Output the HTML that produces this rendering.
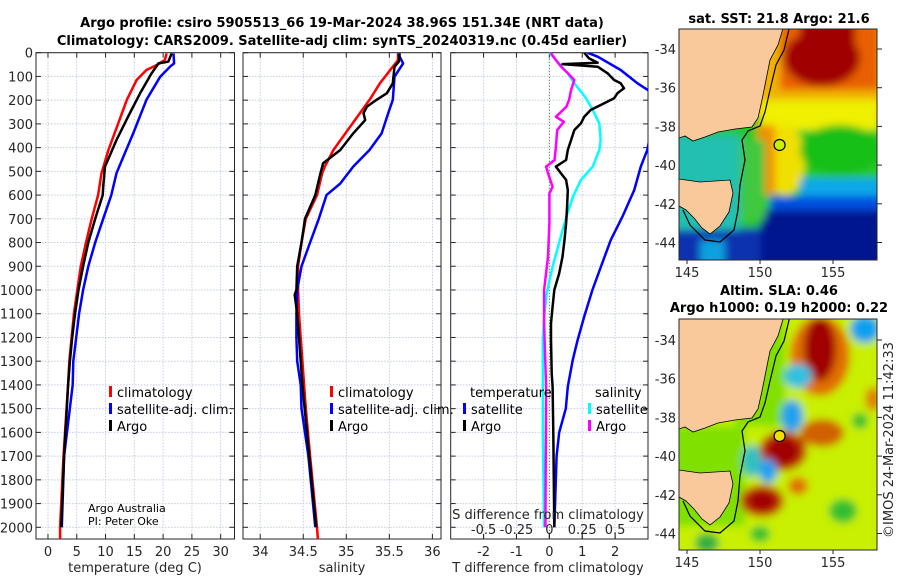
<!DOCTYPE html>
<html><head><meta charset="utf-8">
<style>
body{margin:0;background:#fff;}
svg{display:block;font-family:"DejaVu Sans","Liberation Sans",sans-serif;}
.tk{font-size:13px;fill:#262626;}
.ttl{font-size:13px;font-weight:bold;fill:#000;}
.lg{font-size:13px;fill:#000;}
</style></head>
<body>
<svg id="fig" width="900" height="580" viewBox="0 0 900 580">
<text class="ttl" x="342" y="27" text-anchor="middle">Argo profile: csiro 5905513_66 19-Mar-2024 38.96S 151.34E (NRT data)</text>
<text class="ttl" x="342" y="45" text-anchor="middle">Climatology: CARS2009. Satellite-adj clim: synTS_20240319.nc (0.45d earlier)</text>
<g id="panels"></g>
<g id="maps"></g>
</svg>
<script>
// ---------- data ----------
const depthTicks=[0,100,200,300,400,500,600,700,800,900,1000,1100,1200,1300,1400,1500,1600,1700,1800,1900,2000];
const tTicks=[0,5,10,15,20,25,30];
const sTicks=[34,34.5,35,35.5,36];
const dtTicks=[-2,-1,0,1,2];
const dsTicks=[-0.5,-0.25,0,0.25,0.5];
const dsTickLabels=["-0.5","-0.25","0","0.25","0.5"];

const tClimD=[3,31,52,73,115,199,298,410,508,600,700,800,900,1000,1100,1200,1300,1400,1700,2000,2050];
const tClimV=[20.6,20.3,18.9,17.1,15.4,13.7,12.2,10.5,9.3,8.7,7.6,6.6,5.7,5.1,4.5,4.1,3.7,3.5,2.7,2.1,2.1];
const tArgoD=[3,38,45,87,171,270,368,480,565,600,700,800,900,1000,1100,1200,1300,1400,1700,2000];
const tArgoV=[21.5,20.9,19.2,18.0,16.0,13.9,11.9,9.9,9.6,9.5,8.2,7.0,6.1,5.3,4.7,4.2,3.8,3.5,2.8,2.3];
const tSatD=[3,45,59,101,199,340,438,508,600,700,800,900,1000,1100,1200,1300,1400,1700,2000];
const tSatV=[21.8,21.9,21.2,19.5,17.1,14.8,13.1,11.9,11.0,9.6,8.2,7.0,6.1,5.4,4.9,4.4,4.3,2.8,2.4];

const sClimD=[3,31,59,129,199,284,410,480,508,600,700,800,900,1000,1100,1200,1300,1400,1500,1700,2000,2050];
const sClimV=[35.60,35.60,35.54,35.39,35.27,35.10,34.85,34.75,34.72,34.66,34.53,34.48,34.44,34.44,34.45,34.47,34.49,34.51,34.53,34.58,34.66,34.67];
const sArgoD=[3,38,59,129,171,199,227,255,284,340,410,466,508,600,700,800,900,1000,1020,1100,1200,1300,1400,1700,2000];
const sArgoV=[35.62,35.61,35.56,35.54,35.47,35.35,35.24,35.20,35.22,35.08,34.93,34.73,34.70,34.64,34.52,34.48,34.43,34.42,34.40,34.43,34.45,34.47,34.49,34.57,34.65];
const sSatD=[3,45,101,199,241,340,410,480,551,600,700,800,900,1000,1100,1200,1300,1400,1500,1700,2000];
const sSatV=[35.60,35.66,35.56,35.54,35.50,35.41,35.27,35.08,34.93,34.77,34.68,34.58,34.48,34.43,34.42,34.42,34.43,34.47,34.48,34.56,34.64];

const dtSatD=[0,17,73,129,185,410,480,579,691,789,901,1000,1112,1211,1296,1407,1500,1600,1700,2000];
const dtSatV=[1.16,1.47,2.17,2.68,3.3,2.98,2.78,2.58,2.22,1.87,1.57,1.31,1.06,0.86,0.71,0.56,0.5,0.3,0.22,0.15];
const dtArgoD=[0,24,42,48,52,59,87,115,129,150,171,192,220,241,270,298,326,368,410,452,480,508,536,579,649,719,789,860,930,1000,1070,1140,1211,1351,1407,1600,2000];
const dtArgoV=[1.06,1.21,1.47,0.40,0.76,1.47,1.77,1.97,2.17,2.27,2.07,1.97,1.57,1.26,1.06,0.96,0.76,0.66,0.56,0.51,0.20,0.35,0.51,0.56,0.54,0.51,0.46,0.40,0.30,0.15,0.10,0.05,0.05,0.07,0.10,0.12,0.15];
const dsSatD=[0,31,87,129,185,241,298,368,410,480,536,607,691,789,902,1014,1112,1211,1407,1600,2000];
const dsSatV=[0,0.05,0.14,0.19,0.27,0.33,0.38,0.39,0.38,0.33,0.24,0.18,0.13,0.08,0.025,-0.02,-0.04,-0.05,-0.05,-0.05,-0.04];
const dsArgoD=[0,31,59,87,115,157,199,227,270,291,326,396,452,480,508,565,593,719,860,1000,1140,1407,2000];
const dsArgoV=[0.01,0.05,0.09,0.14,0.19,0.165,0.15,0.13,0.05,0.11,0.06,0.05,0.04,-0.025,-0.01,0.025,0,0,-0.01,-0.04,-0.04,-0.025,-0.03];

// ---------- helpers ----------
const NS="http://www.w3.org/2000/svg";
function mk(tag,attrs,parent){const e=document.createElementNS(NS,tag);for(const k in attrs)e.setAttribute(k,attrs[k]);parent.appendChild(e);return e;}
const Y0=52.7,YS=0.2373,YB=539;
function yD(d){return Y0+d*YS;}
const panelsG=document.getElementById('panels');
function lin(a0,a1,p0,p1){return v=>p0+(v-a0)/(a1-a0)*(p1-p0);}

function drawPanel(name,x0,x1,xs,ticks,labels,showY){
  const g=mk('g',{},panelsG);
  
  
  depthTicks.forEach(d=>{
    const l=mk('line',{x1:x0,x2:x1,y1:yD(d),y2:yD(d),stroke:'#c4cbe8','stroke-dasharray':'1.5,1.5','stroke-width':1},g);
    
    
    mk('line',{x1:x0,x2:x0+5,y1:yD(d),y2:yD(d),stroke:'#262626'},g);
    mk('line',{x1:x1-5,x2:x1,y1:yD(d),y2:yD(d),stroke:'#262626'},g);
    if(showY){const t=mk('text',{x:x0-3,y:yD(d)+5,'text-anchor':'end',class:'tk'},g);t.textContent=d;
      
      }
  });
  ticks.forEach((v,i)=>{
    const l=mk('line',{x1:xs(v),x2:xs(v),y1:Y0,y2:YB,stroke:'#c4cbe8','stroke-dasharray':'1.5,1.5'},g);
    
    
    mk('line',{x1:xs(v),x2:xs(v),y1:YB-5,y2:YB,stroke:'#262626'},g);
    mk('line',{x1:xs(v),x2:xs(v),y1:Y0,y2:Y0+5,stroke:'#262626'},g);
    if(labels){const t=mk('text',{x:xs(v),y:556,'text-anchor':'middle',class:'tk'},g);t.textContent=labels[i];
      
      }
  });
  const b=mk('rect',{x:x0,y:Y0,width:x1-x0,height:YB-Y0,fill:'none',stroke:'#262626','stroke-width':1},g);
  
  
  return g;
}
let clipN=0;
function series(g,name,D,V,xs,color,x0,x1,w){
  const id='pc'+(clipN++);
  const cp=mk('clipPath',{id:id},g);mk('rect',{x:x0,y:Y0,width:x1-x0,height:YB-Y0},cp);
  const p=mk('polyline',{points:D.map((d,i)=>xs(V[i]).toFixed(1)+','+yD(d).toFixed(1)).join(' '),fill:'none',stroke:color,'stroke-width':w||2.5,'stroke-linejoin':'round','clip-path':'url(#'+id+')'},g);
  
  
}
function txt(g,name,x,y,s,cls,anchor,extra){
  const t=mk('text',Object.assign({x:x,y:y,class:cls||'lg','text-anchor':anchor||'start'},extra||{}),g);t.textContent=s;
  
  
  return t;}
function legend(g,name,x,y,color,label){
  const r=mk('rect',{x:x,y:y-11,width:3,height:11,fill:color},g);
  
  
  txt(g,name+'-label',x+8,y,label);
}

// panel 1
const xT=lin(-2.08,32.4,36,234.5);
const g1=drawPanel('temperature-panel',36,234.5,xT,tTicks,tTicks.map(String),true);
series(g1,'temp-climatology-line',tClimD,tClimV,xT,'#ff0000',36,234.5);
series(g1,'temp-satellite-line',tSatD,tSatV,xT,'#0000ff',36,234.5);
series(g1,'temp-argo-line',tArgoD,tArgoV,xT,'#000000',36,234.5);
txt(g1,'x-axis-title-temperature',135,572,'temperature (deg C)','tk','middle');
legend(g1,'legend-climatology',109,397,'#ff0000','climatology');
legend(g1,'legend-satellite',109,414,'#0000ff','satellite-adj. clim.');
legend(g1,'legend-argo',109,431,'#000000','Argo');
txt(g1,'credit-argo-australia',88,512,'Argo Australia','lg','start',{style:'font-size:11px'});
txt(g1,'credit-pi',88,525,'PI: Peter Oke','lg','start',{style:'font-size:11px'});

// panel 2
const xS=lin(33.8,36.1,243,441);
const g2=drawPanel('salinity-panel',243,441,xS,sTicks,sTicks.map(String),false);
series(g2,'sal-climatology-line',sClimD,sClimV,xS,'#ff0000',243,441);
series(g2,'sal-satellite-line',sSatD,sSatV,xS,'#0000ff',243,441);
series(g2,'sal-argo-line',sArgoD,sArgoV,xS,'#000000',243,441);
txt(g2,'x-axis-title-salinity',342,572,'salinity','tk','middle');
legend(g2,'legend-s-climatology',330,397,'#ff0000','climatology');
legend(g2,'legend-s-satellite',330,414,'#0000ff','satellite-adj. clim.');
legend(g2,'legend-s-argo',330,431,'#000000','Argo');

// panel 3
const xDT=lin(-3,3,450.7,648), xDS=lin(-0.75,0.75,450.7,648);
const g3=drawPanel('difference-panel',450.7,648,xDT,dtTicks,dtTicks.map(String),false);
const zl=mk('line',{x1:xDT(0),x2:xDT(0),y1:Y0,y2:YB,stroke:'#4a6a20','stroke-dasharray':'1,2'},g3);


series(g3,'dt-satellite-line',dtSatD,dtSatV,xDT,'#0000ff',450.7,648);
series(g3,'ds-satellite-line',dsSatD,dsSatV,xDS,'#00ffff',450.7,648);
series(g3,'ds-argo-line',dsArgoD,dsArgoV,xDS,'#ff00ff',450.7,648);
series(g3,'dt-argo-line',dtArgoD,dtArgoV,xDT,'#000000',450.7,648);
dsTicks.forEach((v,i)=>{mk('line',{x1:xDS(v),x2:xDS(v),y1:YB-5,y2:YB,stroke:'#262626'},g3);
  txt(g3,'s-tick-label',xDS(v),534,dsTickLabels[i],'tk','middle');});
txt(g3,'s-axis-title',548,519,'S difference from climatology','tk','middle');
txt(g3,'x-axis-title-tdiff',548,572,'T difference from climatology','tk','middle');
txt(g3,'legend-temperature-header',470,397,'temperature');
legend(g3,'legend-dt-satellite',463,414,'#0000ff','satellite');
legend(g3,'legend-dt-argo',463,431,'#000000','Argo');
txt(g3,'legend-salinity-header',595,397,'salinity');
legend(g3,'legend-ds-satellite',588,414,'#00ffff','satellite');
legend(g3,'legend-ds-argo',588,431,'#ff00ff','Argo');

// ---------- maps ----------
const mapsG=document.getElementById('maps');
const lonTicks=[145,150,155], latTicks=[-34,-36,-38,-40,-42,-44];
function lonX(l){return 679+(l-144.45)*14.6;}
function drawMap(name,top,bot,y34,layers,markerFill){
  const g=mk('g',{},mapsG);
  
  
  const latY=l=>y34+(-34-l)*19.35;
  const off=y34-49;
  const id='mc'+name;
  const cp=mk('clipPath',{id:id},g);mk('rect',{x:679,y:top,width:198,height:bot-top},cp);
  const inner=mk('g',{'clip-path':'url(#'+id+')'},g);
  const fid='bl'+name;
  const f=mk('filter',{id:fid,x:'-50%',y:'-50%',width:'200%',height:'200%'},g);mk('feGaussianBlur',{stdDeviation:4},f);
  const bg=mk('g',{filter:'url(#'+fid+')'},inner);
  layers.forEach(L=>{
    if(L[0]==='r')mk('rect',{x:L[1],y:L[2]+off,width:L[3],height:L[4],fill:L[5]},bg);
    else mk('ellipse',{cx:L[1],cy:L[2]+off,rx:L[3],ry:L[4],fill:L[5]},bg);
  });
  const land=mk('path',{d:`M679,${25+off} L784,${25+off} L778,${45+off} L770,${60+off} L766,${80+off} L762,${100+off} L758,${118+off} L752,${127+off} L735,${129+off} L718,${132+off} L705,${137+off} L693,${141+off} L685,${136+off} L679,${138+off} Z
  M679,${179+off} L700,${182+off} L730,${180+off} L733,${193+off} L729,${212+off} L720,${226+off} L710,${234+off} L702,${228+off} L694,${218+off} L686,${210+off} L679,${206+off} Z`,fill:'#f9c89b',stroke:'#000','stroke-width':0.8},inner);
  
  
  const cont=mk('path',{d:`M790,${25+off} L784,${50+off} L776,${65+off} L770,${90+off} L765,${112+off} L760,${126+off} L748,${131+off} L742,${140+off} L745,${160+off} L740,${185+off} L738,${210+off} L734,${230+off} L720,${242+off} L705,${240+off} L690,${225+off} L683,${210+off}`,fill:'none',stroke:'#000','stroke-width':1.2},inner);
  
  
  const m=mk('circle',{cx:lonX(151.34),cy:latY(-38.96),r:5.5,fill:markerFill,stroke:'#000','stroke-width':1.2},g);
  
  
  const b=mk('rect',{x:679,y:top,width:198,height:bot-top,fill:'none',stroke:'#262626'},g);
  
  
  latTicks.forEach(l=>{mk('line',{x1:877,x2:882,y1:latY(l),y2:latY(l),stroke:'#262626'},g);
    txt(g,'lat-tick-label',676,latY(l)+5,String(l),'tk','end');});
  lonTicks.forEach(l=>{mk('line',{x1:lonX(l),x2:lonX(l),y1:bot,y2:bot+4,stroke:'#262626'},g);
    txt(g,'lon-tick-label',lonX(l),bot+17,String(l),'tk','middle');});
  return g;
}
const sstLayers=[
 ['r',670,20,220,250,'#28c828'],
 ['r',745,20,140,95,'#f0b400'],
 ['r',780,20,100,70,'#e86000'],
 ['r',800,20,55,40,'#a00000'],
 ['e',822,58,38,28,'#a00000'],
 ['r',760,100,120,30,'#f0f000'],
 ['e',785,160,20,35,'#f0e000'],
 ['r',757,125,18,70,'#f09000'],
 ['e',840,150,40,25,'#18c018'],
 ['r',800,178,85,18,'#10a8e8'],
 ['r',770,196,115,14,'#0050e0'],
 ['r',760,210,130,60,'#001890'],
 ['r',670,228,90,40,'#0830b0'],
 ['r',670,135,70,95,'#20c0b0'],
 ['r',700,240,25,30,'#10a0e0'],
 ['r',740,140,25,80,'#40c840']
];
// SLA layers in map-local coords (same frame as SST map)
const slaLayers=[
 ['r',670,20,220,250,'#c8f000'],
 ['r',670,135,75,100,'#80e000'],
 ['r',735,25,50,110,'#80e000'],
 ['e',820,65,30,40,'#e07000'],
 ['e',820,58,16,32,'#a00000'],
 ['e',865,38,15,14,'#10a0f0'],
 ['e',798,85,14,12,'#30c0e0'],
 ['e',792,125,11,16,'#20a0f0'],
 ['e',783,160,24,20,'#c03000'],
 ['e',783,160,16,14,'#a00000'],
 ['e',752,170,10,16,'#30c0c0'],
 ['e',768,180,9,12,'#20a0f0'],
 ['e',762,210,22,16,'#c03000'],
 ['e',762,210,14,10,'#a00000'],
 ['e',822,142,22,14,'#d06000'],
 ['e',798,195,10,9,'#e07000'],
 ['e',873,108,8,12,'#e08000'],
 ['e',860,130,8,8,'#30c030'],
 ['e',843,220,14,12,'#30c030'],
 ['e',760,243,10,8,'#30c030'],
 ['e',707,252,12,10,'#30b040']
];
drawMap('sst-map',29,260,49,sstLayers,'#c8f000');
drawMap('sla-map',319,550,340,slaLayers,'#f0e000');
txt(mapsG,'sst-map-title',779,23,'sat. SST: 21.8 Argo: 21.6','ttl','middle');
txt(mapsG,'sla-map-title-1',779,295,'Altim. SLA: 0.46','ttl','middle');
txt(mapsG,'sla-map-title-2',779,312,'Argo h1000: 0.19 h2000: 0.22','ttl','middle');
txt(mapsG,'imos-timestamp',893,440,'©IMOS 24-Mar-2024 11:42:33','tk','middle',{transform:'rotate(-90 893 440)'});
</script>
</body></html>
